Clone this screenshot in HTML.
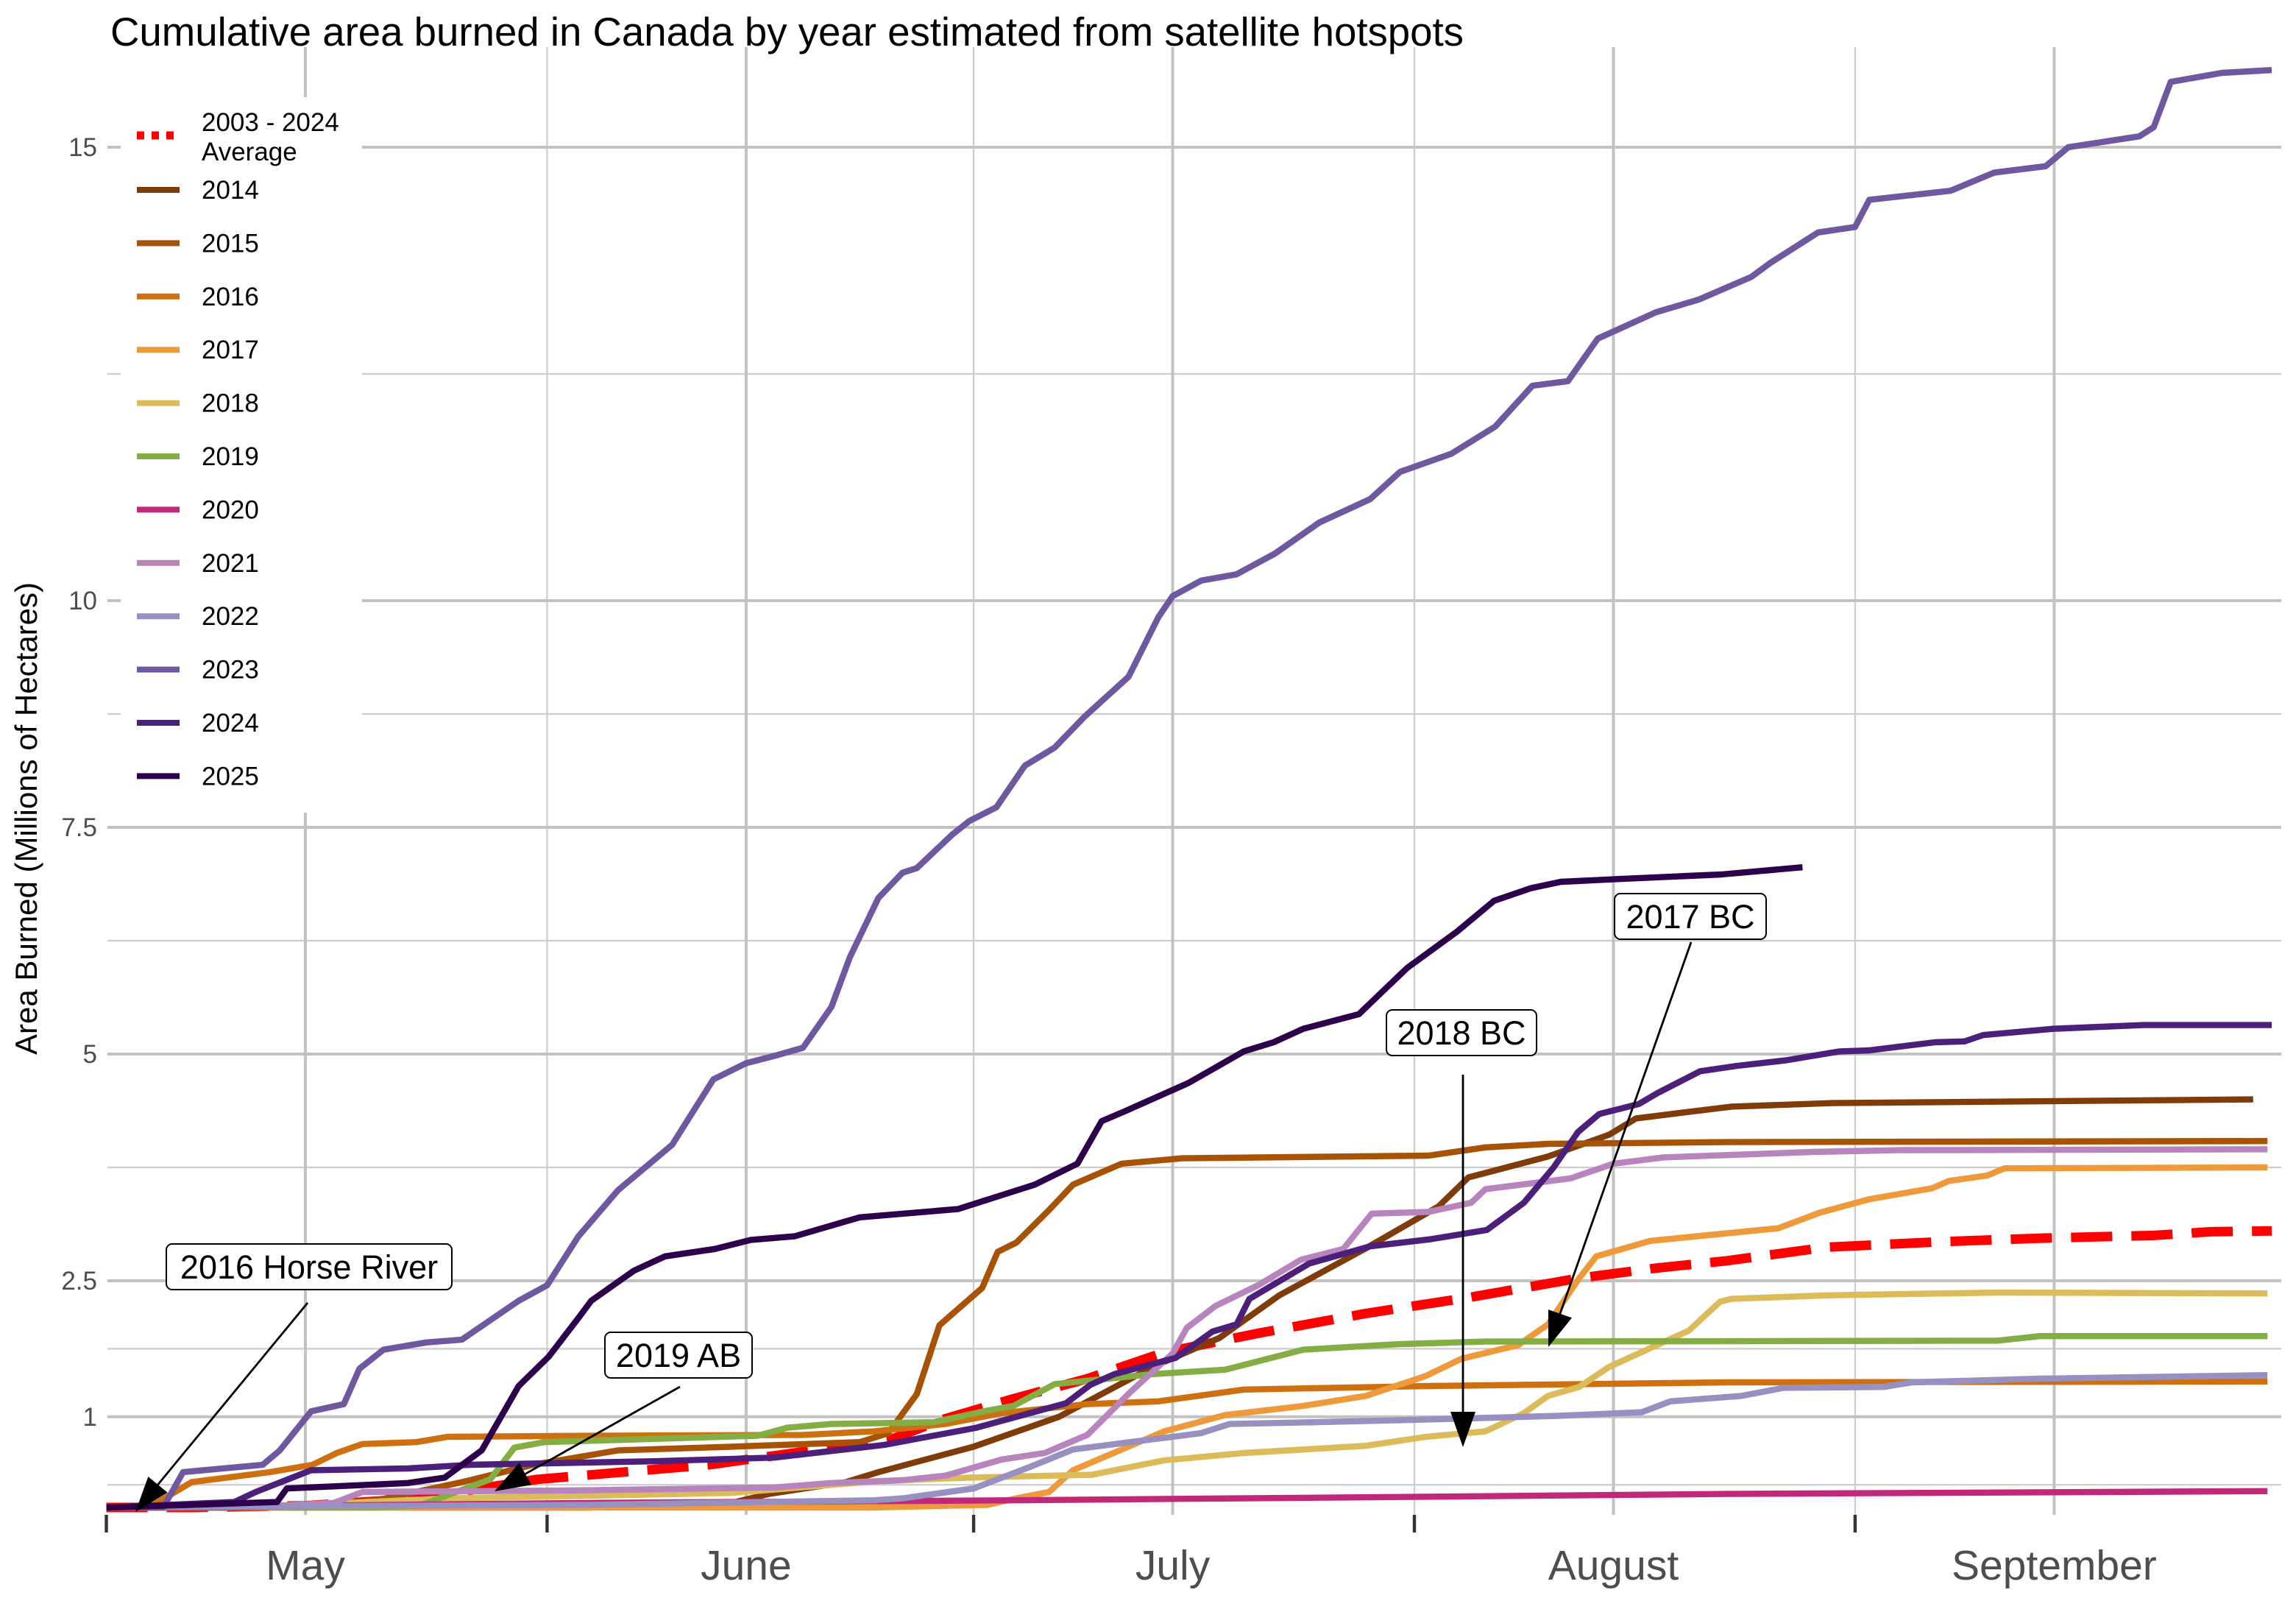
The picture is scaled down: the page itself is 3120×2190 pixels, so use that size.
<!DOCTYPE html>
<html><head><meta charset="utf-8"><style>
html,body{margin:0;padding:0;background:#fff;}
svg{display:block;}
text{font-family:"Liberation Sans",Arial,sans-serif;}
</style></head><body>
<svg id="chart" width="3120" height="2190" viewBox="0 0 1560 1095" xmlns="http://www.w3.org/2000/svg">
<rect x="0" y="0" width="1560" height="1095" fill="#fff"/>
<text x="75" y="31" font-size="27.3" fill="#000">Cumulative area burned in Canada by year estimated from satellite hotspots</text>
<g id="grid"></g>
<g id="ylabels"></g>
<g id="xaxis"></g>
<text transform="translate(25,556) rotate(-90)" text-anchor="middle" font-size="21" fill="#000">Area Burned (Millions of Hectares)</text>
<g id="series"></g>
<g id="legend"></g>
<g id="annot"></g>
</svg>
<script>
// days are offsets from May 1; values in millions of hectares
const yTicks = [1, 2.5, 5, 7.5, 10, 15];
const yTickLabels = ["1", "2.5", "5", "7.5", "10", "15"];
const yMinor = [0.25, 1.75, 3.75, 6.25, 8.75, 12.5];
const monthDays = [0, 31, 61, 92, 123];
const monthLabels = ["May", "June", "July", "August", "September"];
const tickDays = [-14, 17, 47, 78, 109];
const seriesNames = ["2003 - 2024 Average","2014","2015","2016","2017","2018","2019","2020","2021","2022","2023","2024","2025"];

const avgDays = [-14,-8,0,8,16.3,28.4,41.2,44.6,49.8,55,60.4,67,74.6,82,89.6,95,100,107,115,122.3,130,134,138.3];
const avgVals = [0,0,0.02,0.1,0.31,0.47,0.75,0.96,1.2,1.42,1.71,1.92,2.14,2.32,2.53,2.64,2.72,2.87,2.93,2.97,3.0,3.04,3.05];
const d2014 = [-14,20,30,32.6,38,40.3,47,53,59.6,64.3,68.5,74.5,79.7,81.8,87.4,91.7,93.6,100.3,107.4,137];
const v2014 = [0,0,0.05,0.15,0.28,0.39,0.67,1.0,1.55,1.87,2.34,2.85,3.32,3.64,3.87,4.11,4.29,4.42,4.46,4.5];
const d2015 = [-14,-5,0,5,11,16,22,30,39,41,43,44.6,47.6,48.7,50,52.3,54,57.4,61.7,79,83,87.4,100,138];
const v2015 = [0,0,0.02,0.08,0.28,0.47,0.63,0.67,0.72,0.82,1.25,2.01,2.42,2.82,2.92,3.28,3.56,3.79,3.85,3.88,3.97,4.01,4.03,4.04];
const d2016 = [-14,-11,-8,-2.5,0.5,2.2,4,7.8,10,20,35,40,45,49,55,60,66,79,100,138];
const v2016 = [0,0,0.28,0.39,0.47,0.6,0.7,0.72,0.78,0.79,0.8,0.84,0.92,1.04,1.14,1.17,1.3,1.34,1.38,1.39];
const d2017 = [-14,40,48,50,52.3,54,60.4,64.7,70.2,74.6,78.8,81.3,85.3,87.4,89.6,90.8,94.6,103.6,106.5,110,114.4,115.6,118.3,119.5,138];
const v2017 = [0,0,0.03,0.1,0.17,0.41,0.84,1.02,1.12,1.23,1.45,1.64,1.79,2.02,2.53,2.77,2.94,3.08,3.25,3.4,3.52,3.6,3.66,3.74,3.75];
const d2018 = [-14,-2,3,10,20,30,40.3,46.7,55.3,60.4,66,74.6,78.8,83,85.7,87.4,89.6,91.7,97.3,99.5,100.3,107,119,138];
const v2018 = [0,0,0.05,0.1,0.13,0.16,0.29,0.33,0.36,0.52,0.6,0.68,0.78,0.84,1.04,1.23,1.33,1.55,1.95,2.27,2.3,2.34,2.37,2.36];
const d2019 = [-14,4,8,13,14.7,16.8,31.8,33.9,37,44.2,48,49.8,52.7,59.6,64.7,70.2,76.8,83,119,122,138];
const v2019 = [0,0,0.02,0.31,0.66,0.72,0.79,0.88,0.92,0.94,1.07,1.12,1.36,1.47,1.52,1.74,1.8,1.83,1.84,1.89,1.89];
const d2020 = [-14,-5,0,20,50,80,100,138];
const v2020 = [0,0,0.02,0.05,0.08,0.12,0.15,0.18];
const d2021 = [-14,-2,2,4,20,33,37,42,45,49,52,55,58,61,62,64,67,70,73,75,79,82,83,86,89,92,95.5,106,112,138];
const v2021 = [0,0.02,0.05,0.17,0.19,0.22,0.27,0.3,0.35,0.53,0.6,0.8,1.27,1.7,1.98,2.22,2.45,2.73,2.85,3.24,3.26,3.36,3.51,3.57,3.63,3.79,3.86,3.92,3.94,3.95];
const d2022 = [-14,-5,20,40,42,47,51,54,58,61,63,65,71,79,88,94,96,101,104,111,113,122,138];
const v2022 = [0,0.01,0.03,0.08,0.1,0.21,0.45,0.64,0.72,0.78,0.82,0.92,0.94,0.97,1.01,1.05,1.17,1.23,1.32,1.33,1.38,1.42,1.46];
const d2023 = [-14,-10,-8.6,-3,-1.8,0.4,2.7,3.8,5.5,8.5,11,15,17,19.2,22,25.8,28.7,31,33,35,37,38.3,40.3,42,43,45.5,46.7,48.6,50.6,52.7,54.8,57.9,60,61,63,65.5,68.2,71.3,74.9,77,80.6,83.7,86.3,88.8,90.9,95,98,101.7,103,106.4,109,110,115.7,118.8,122.4,124,129,130,131.2,134.8,138.3];
const v2023 = [0,0,0.39,0.47,0.63,1.06,1.14,1.53,1.74,1.82,1.85,2.28,2.45,2.99,3.5,4.0,4.72,4.9,4.98,5.07,5.52,6.07,6.72,7.0,7.05,7.42,7.57,7.72,8.18,8.38,8.72,9.16,9.82,10.05,10.22,10.29,10.52,10.86,11.12,11.42,11.62,11.92,12.37,12.42,12.89,13.18,13.32,13.57,13.72,14.06,14.12,14.42,14.52,14.72,14.79,15.0,15.12,15.22,15.72,15.82,15.85];
const d2024 = [-14,-5,-3.5,0.4,7.2,11.6,24.5,33,40.7,47.2,53.5,55.2,56.9,61.2,63.8,65.5,66.4,70.6,74.9,79.2,83.1,85.7,87.8,89.5,91,93.8,95.1,98.1,100.7,104.1,107.9,110,114.6,116.7,118,123,129.3,138.3];
const v2024 = [0,0.06,0.17,0.41,0.43,0.47,0.51,0.55,0.69,0.88,1.15,1.35,1.47,1.65,1.94,2.02,2.3,2.69,2.88,2.96,3.06,3.36,3.75,4.14,4.34,4.45,4.57,4.81,4.87,4.93,5.03,5.04,5.13,5.14,5.21,5.28,5.32,5.32];
const d2025 = [-14,-10,-2,-1.3,7.2,9.8,12.4,15,17.1,19.2,20.1,23.1,25.3,28.8,31.3,34.4,39,45.9,47.3,51.3,54.3,56,57.8,62.1,66,68.1,70.2,74.1,74.9,77.5,81,83.6,86.2,88.3,92.4,99.6,105.3];
const v2025 = [0,0.02,0.06,0.21,0.27,0.33,0.63,1.34,1.66,2.09,2.28,2.61,2.77,2.85,2.95,2.99,3.2,3.29,3.36,3.56,3.79,4.26,4.38,4.68,5.03,5.13,5.28,5.44,5.56,5.95,6.35,6.69,6.83,6.9,6.93,6.98,7.06];

const NS = "http://www.w3.org/2000/svg";
const X0 = 73, X1 = 1550, YTOP = 32, YBOT = 1029;
function xs(d){ return 207.5 + 9.66 * d; }
function ys(v){ return 1024 - 61.6 * v; }
function mk(tag, attrs, parent){ const e = document.createElementNS(NS, tag); for (const k in attrs) e.setAttribute(k, attrs[k]); parent.appendChild(e); return e; }

const grid = document.getElementById('grid');
yMinor.forEach(v => {
  const l = mk('line', {x1:X0, x2:X1, y1:ys(v), y2:ys(v), stroke:'#cccccc', 'stroke-width':1.1}, grid);
  
  
});
tickDays.forEach(d => {
  if (d < 0) return;
  const l = mk('line', {x1:xs(d), x2:xs(d), y1:YTOP, y2:YBOT, stroke:'#cccccc', 'stroke-width':1.1}, grid);
  
  
});
yTicks.forEach(v => {
  const l = mk('line', {x1:X0, x2:X1, y1:ys(v), y2:ys(v), stroke:'#c2c2c2', 'stroke-width':2}, grid);
  
  
});
monthDays.forEach(d => {
  const l = mk('line', {x1:xs(d), x2:xs(d), y1:YTOP, y2:YBOT, stroke:'#c2c2c2', 'stroke-width':2}, grid);
  
  
});

const yl = document.getElementById('ylabels');
yTicks.forEach((v, i) => {
  const t = mk('text', {x:66, y:ys(v)+6, 'text-anchor':'end', 'font-size':17.5, fill:'#4d4d4d'}, yl);
  t.textContent = yTickLabels[i];
  
  
});
const xa = document.getElementById('xaxis');
tickDays.forEach(d => {
  const l = mk('line', {x1:xs(d), x2:xs(d), y1:YBOT, y2:YBOT+12, stroke:'#333', 'stroke-width':2.2}, xa);
  
  
});
monthDays.forEach((d, i) => {
  const t = mk('text', {x:xs(d), y:1073, 'text-anchor':'middle', 'font-size':28.5, fill:'#4d4d4d'}, xa);
  t.textContent = monthLabels[i];
  
  
});

const colors = ['#ff0000','#7f3b08','#a75205','#cf7010','#ee9a3a','#dcbb5a','#84ad44','#c0287a','#b884bd','#9790c0','#6f58a0','#4b1f7a','#2d004b'];
const allDays = [avgDays,d2014,d2015,d2016,d2017,d2018,d2019,d2020,d2021,d2022,d2023,d2024,d2025];
const allVals = [avgVals,v2014,v2015,v2016,v2017,v2018,v2019,v2020,v2021,v2022,v2023,v2024,v2025];
const sg = document.getElementById('series');
allDays.forEach((days, i) => {
  const pts = days.map((d, j) => xs(d).toFixed(1) + ',' + ys(allVals[i][j]).toFixed(1)).join(' ');
  const attrs = {points:pts, fill:'none', stroke:colors[i], 'stroke-width': i === 0 ? 6.5 : 4.2, 'stroke-linejoin':'round'};
  if (i === 0) attrs['stroke-dasharray'] = '28 13';
  const p = mk('polyline', attrs, sg);
  
  
});

const lg = document.getElementById('legend');
const bg = mk('rect', {x:82, y:66, width:164, height:486, fill:'#fff'}, lg);


seriesNames.forEach((n, i) => {
  const y = i === 0 ? 92 : 129 + (i - 1) * 36.2;
  const g = mk('g', {}, lg);
  
  
  const attrs = {x1:93, x2:122, y1:y, y2:y, stroke:colors[i], 'stroke-width': i === 0 ? 5.5 : 4};
  if (i === 0) attrs['stroke-dasharray'] = '5 5';
  mk('line', attrs, g);
  if (i === 0) {
    const t1 = mk('text', {x:137, y:89, 'font-size':17.5, fill:'#000'}, g); t1.textContent = '2003 - 2024';
    const t2 = mk('text', {x:137, y:109, 'font-size':17.5, fill:'#000'}, g); t2.textContent = 'Average';
  } else {
    const t = mk('text', {x:137, y:y+6, 'font-size':17.5, fill:'#000'}, g); t.textContent = n;
  }
});

const an = document.getElementById('annot');
const notes = [
  {label:'2016 Horse River', bx:113, by:845, bw:194, x1:209, y1:885, x2:92, y2:1027},
  {label:'2019 AB', bx:411, by:905, bw:100, x1:462, y1:942, x2:336, y2:1013},
  {label:'2018 BC', bx:942, by:686, bw:102, x1:994, y1:730, x2:994, y2:983},
  {label:'2017 BC', bx:1097, by:607, bw:103, x1:1149, y1:640, x2:1052, y2:915}
];
notes.forEach(a => {
  const g = mk('g', {}, an);
  
  
  const dx = a.x2 - a.x1, dy = a.y2 - a.y1, L = Math.hypot(dx, dy), ux = dx / L, uy = dy / L;
  const hl = 24, hw = 8.5;
  const bx = a.x2 - ux * hl, by = a.y2 - uy * hl;
  mk('line', {x1:a.x1, y1:a.y1, x2:bx, y2:by, stroke:'#000', 'stroke-width':1.4}, g);
  mk('polygon', {points:`${a.x2},${a.y2} ${bx - uy*hw},${by + ux*hw} ${bx + uy*hw},${by - ux*hw}`, fill:'#000'}, g);
  mk('rect', {x:a.bx, y:a.by, width:a.bw, height:31, rx:4, fill:'#fff', stroke:'#000', 'stroke-width':1}, g);
  const t = mk('text', {x:a.bx + a.bw/2, y:a.by + 23.5, 'text-anchor':'middle', 'font-size':22.5, fill:'#000'}, g);
  t.textContent = a.label;
});
</script>
</body></html>
